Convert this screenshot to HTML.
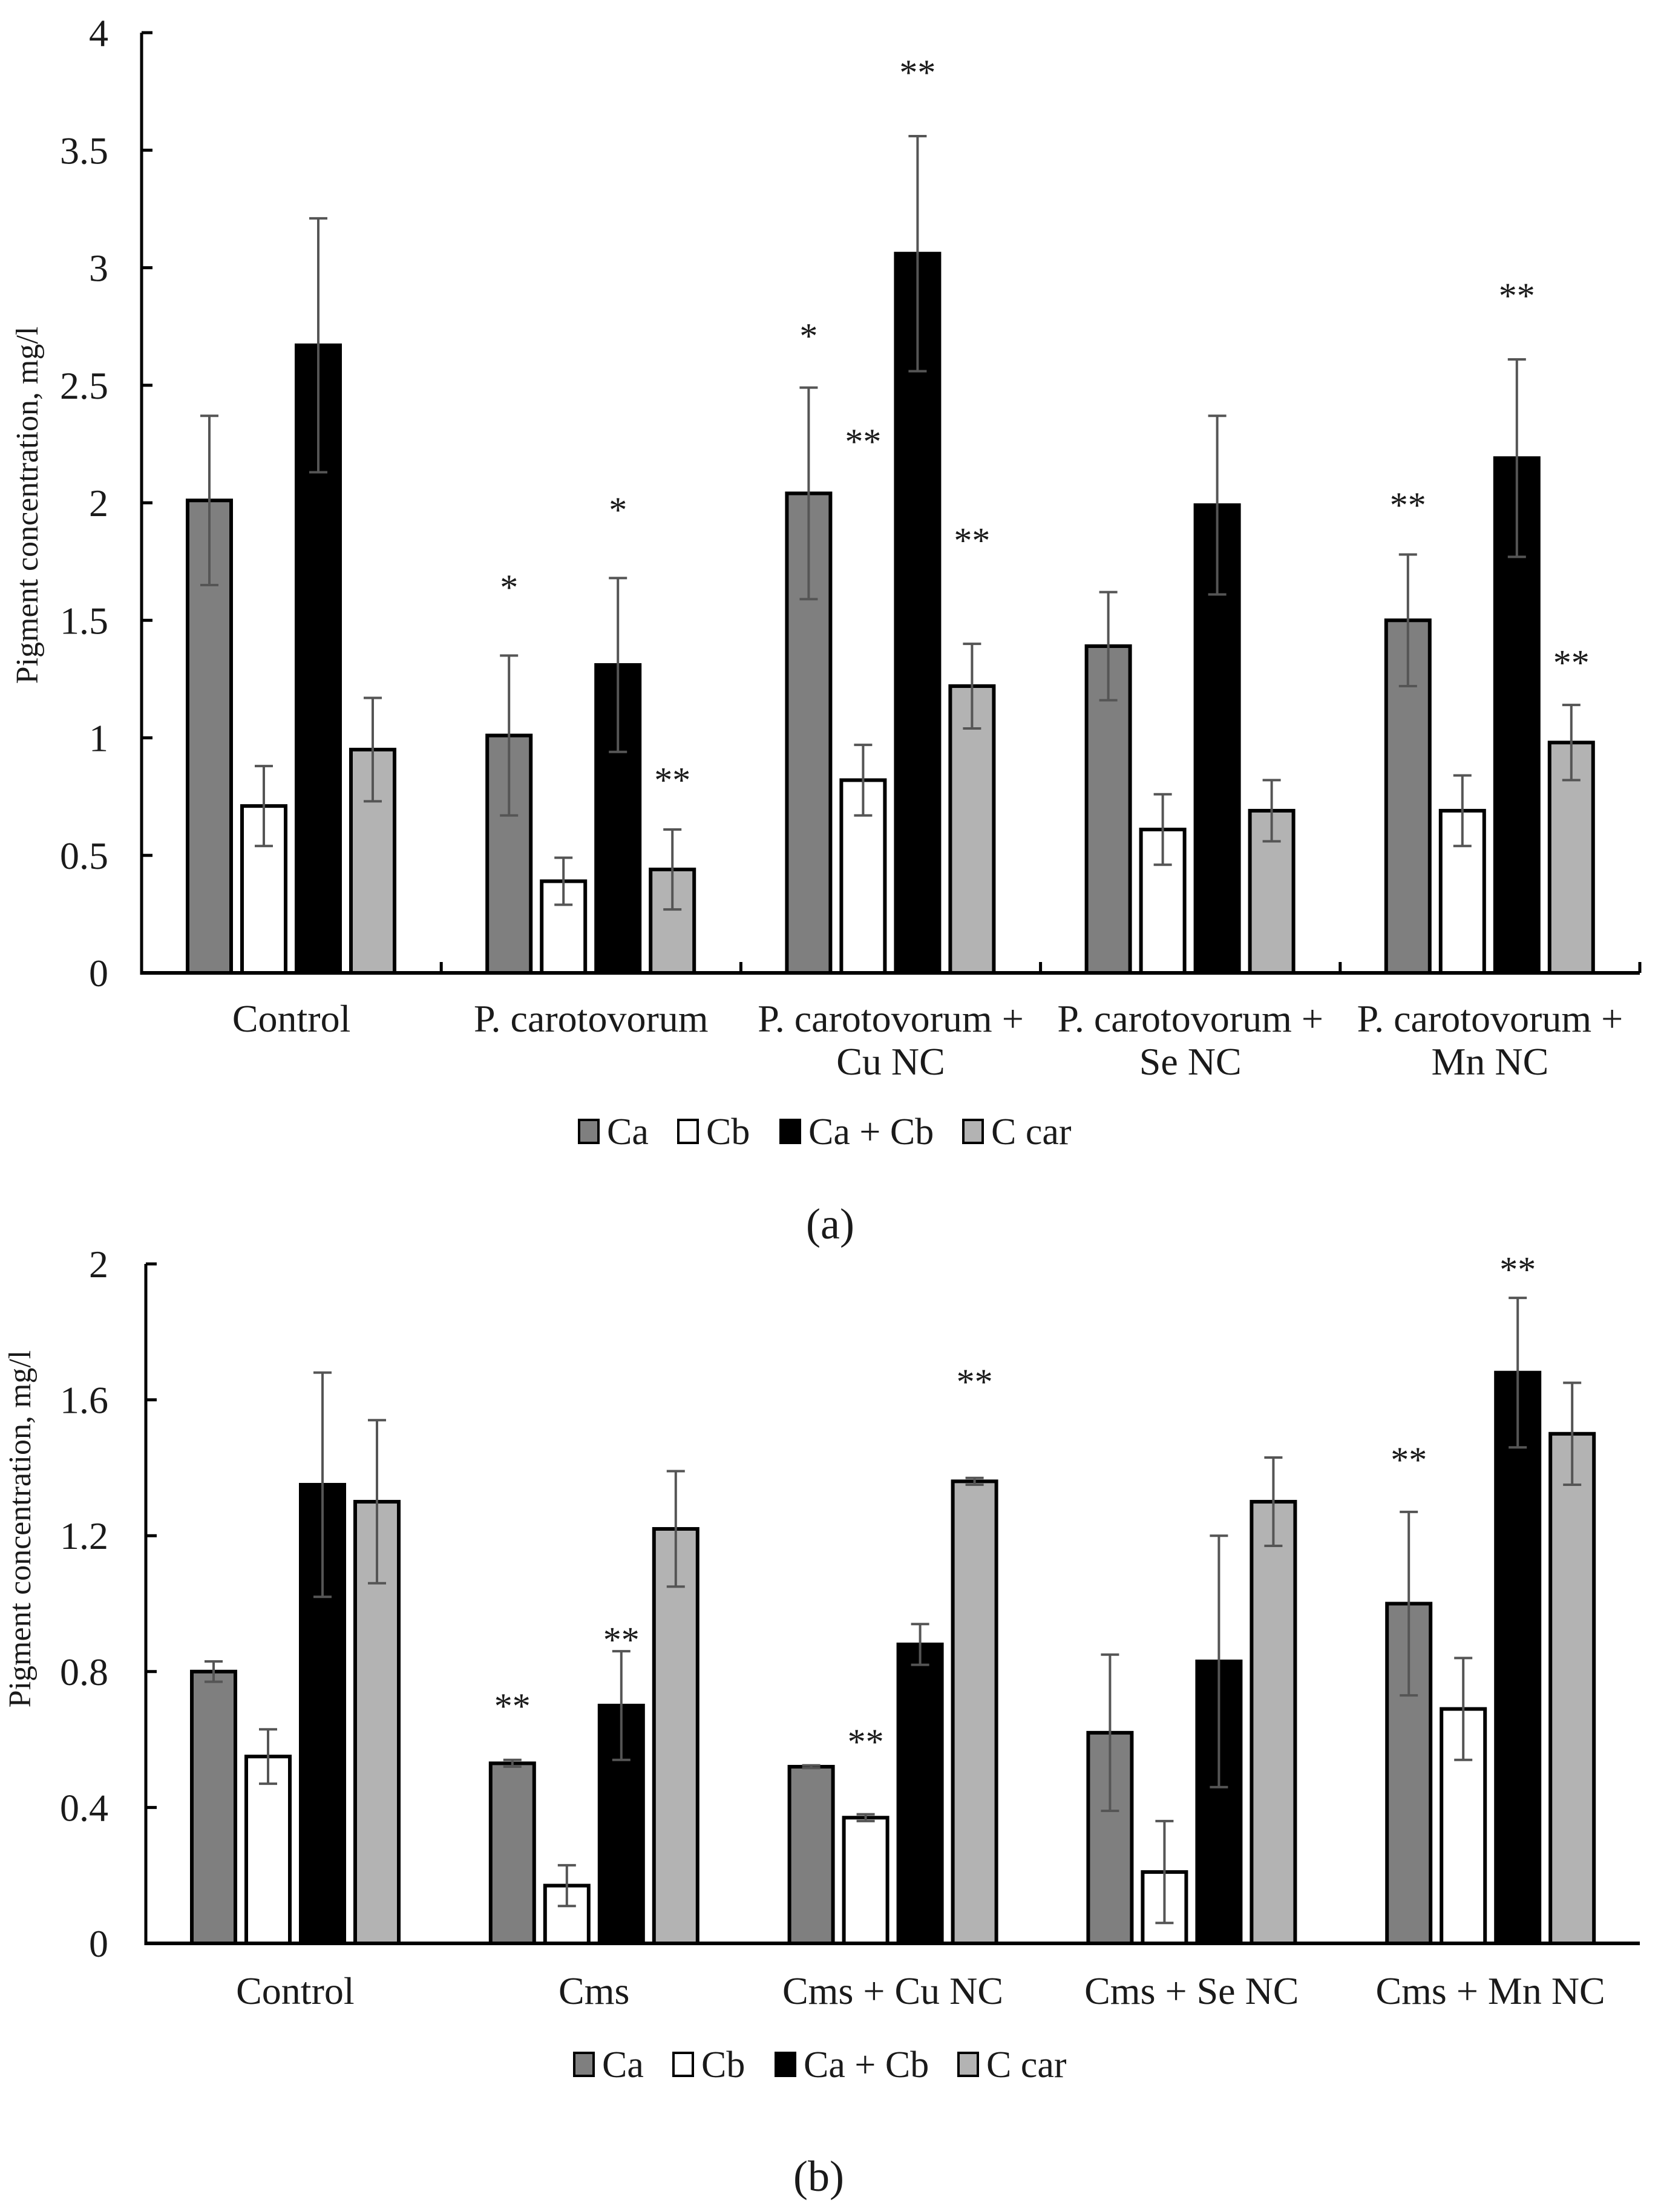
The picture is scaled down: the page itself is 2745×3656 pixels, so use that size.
<!DOCTYPE html>
<html><head><meta charset="utf-8">
<style>
html,body{margin:0;padding:0;background:#fff;}
svg{display:block;}
text{font-family:"Liberation Serif","Times New Roman",serif;fill:#1a1a1a;}
</style></head>
<body>
<svg id="fig" width="2745" height="3656" viewBox="0 0 2745 3656" xmlns="http://www.w3.org/2000/svg"></svg>
<script>
// ---------- Chart (a) data ----------
const catsA = [["Control"],["P. carotovorum"],["P. carotovorum +","Cu NC"],["P. carotovorum +","Se NC"],["P. carotovorum +","Mn NC"]];
const caA   = [2.01, 1.01, 2.04, 1.39, 1.50];
const cbA   = [0.71, 0.39, 0.82, 0.61, 0.69];
const cabA  = [2.67, 1.31, 3.06, 1.99, 2.19];
const ccarA = [0.95, 0.44, 1.22, 0.69, 0.98];
const caErrA   = [0.36, 0.34, 0.45, 0.23, 0.28];
const cbErrA   = [0.17, 0.10, 0.15, 0.15, 0.15];
const cabErrA  = [0.54, 0.37, 0.50, 0.38, 0.42];
const ccarErrA = [0.22, 0.17, 0.18, 0.13, 0.16];
const ticksA = [0, 0.5, 1, 1.5, 2, 2.5, 3, 3.5, 4];
const tickLabelsA = ["0","0.5","1","1.5","2","2.5","3","3.5","4"];
// significance marks: [group, series, text, value-level]
const sigA = [[1,0,"*",1.65],[1,2,"*",1.98],[1,3,"**",0.83],[2,0,"*",2.72],[2,1,"**",2.27],[2,2,"**",3.84],[2,3,"**",1.85],[4,0,"**",2.00],[4,2,"**",2.89],[4,3,"**",1.33]];

// ---------- Chart (b) data ----------
const catsB = [["Control"],["Cms"],["Cms + Cu NC"],["Cms + Se NC"],["Cms + Mn NC"]];
const caB   = [0.80, 0.53, 0.52, 0.62, 1.00];
const cbB   = [0.55, 0.17, 0.37, 0.21, 0.69];
const cabB  = [1.35, 0.70, 0.88, 0.83, 1.68];
const ccarB = [1.30, 1.22, 1.36, 1.30, 1.50];
const caErrB   = [0.03, 0.01, 0.004, 0.23, 0.27];
const cbErrB   = [0.08, 0.06, 0.01, 0.15, 0.15];
const cabErrB  = [0.33, 0.16, 0.06, 0.37, 0.22];
const ccarErrB = [0.24, 0.17, 0.01, 0.13, 0.15];
const ticksB = [0, 0.4, 0.8, 1.2, 1.6, 2];
const tickLabelsB = ["0","0.4","0.8","1.2","1.6","2"];
const sigB = [[1,0,"**",0.705],[1,2,"**",0.90],[2,1,"**",0.60],[2,3,"**",1.66],[4,0,"**",1.43],[4,2,"**",1.99]];

const seriesNames = ["Ca","Cb","Ca + Cb","C car"];
const seriesKeys = ["ca","cb","ca-cb","c-car"];
const fills = ["#7f7f7f","#ffffff","#000000","#b3b3b3"];

const NS = "http://www.w3.org/2000/svg";
const svg = document.getElementById("fig");
function mk(tag, attrs, parent){
  const e = document.createElementNS(NS, tag);
  for (const k in attrs) e.setAttribute(k, attrs[k]);
  (parent||svg).appendChild(e);
  return e;
}

function drawChart(o){
  const g = mk("g", {});
  
  
  const yScale = v => o.y0 - (v - 0) / o.yMax * (o.y0 - o.yTop);
  const groupW = (o.xEnd - o.x0) / o.cats.length;
  const barX = (gi, si) => o.x0 + gi*groupW + o.pad + si*o.step;
  o.ticks.forEach((t, i) => {
    const y = yScale(t);
    const tk = mk("line", {x1:o.x0, x2:o.x0+18, y1:y, y2:y, stroke:"#000", "stroke-width":5}, g);
    
    
    const tl = mk("text", {x:179, y:y+22, "text-anchor":"end", "font-size":64}, g);
    tl.textContent = o.tickLabels[i];
    
    
  });
  const series = [o.ca, o.cb, o.cab, o.ccar];
  const errs = [o.caErr, o.cbErr, o.cabErr, o.ccarErr];
  o.cats.forEach((c, gi) => {
    series.forEach((s, si) => {
      const x = barX(gi, si), y = yScale(s[gi]);
      const r = mk("rect", {x:x, y:y, width:o.bw, height:o.y0 - y, fill:fills[si], stroke:"#000", "stroke-width":6}, g);
      
      
      const cx = x + o.bw/2;
      const yt = yScale(s[gi] + errs[si][gi]), yb = yScale(s[gi] - errs[si][gi]);
      const eg = mk("g", {stroke:"#555", "stroke-width":4}, g);
      
      
      mk("line", {x1:cx, x2:cx, y1:yt, y2:yb}, eg);
      mk("line", {x1:cx-15, x2:cx+15, y1:yt, y2:yt}, eg);
      mk("line", {x1:cx-15, x2:cx+15, y1:yb, y2:yb}, eg);
    });
    const lx = o.x0 + gi*groupW + groupW/2;
    c.forEach((line, li) => {
      const t = mk("text", {x:lx, y:o.labelY + li*71, "text-anchor":"middle", "font-size":64}, g);
      t.textContent = line;
      
      
    });
    if (o.sepTicks && gi > 0) {
      const tx = o.x0 + gi*groupW;
      const st = mk("line", {x1:tx, x2:tx, y1:o.y0, y2:o.y0-18, stroke:"#000", "stroke-width":5}, g);
      
      
    }
  });
  if (o.sepTicks) {
    const st = mk("line", {x1:o.xEnd, x2:o.xEnd, y1:o.y0, y2:o.y0-18, stroke:"#000", "stroke-width":5}, g);
    
    
  }
  o.sig.forEach(s => {
    const cx = barX(s[0], s[1]) + o.bw/2;
    const t = mk("text", {x:cx, y:yScale(s[3]) + 24, "text-anchor":"middle", "font-size":60, fill:"#444"}, g);
    t.textContent = s[2];
    
    
  });
  const ya = mk("line", {x1:o.x0, x2:o.x0, y1:o.yTop, y2:o.y0+2.5, stroke:"#000", "stroke-width":5}, g);
  
  
  const xa = mk("line", {x1:o.x0-2.5, x2:o.xEnd, y1:o.y0, y2:o.y0, stroke:"#000", "stroke-width":6}, g);
  
  
  const at = mk("text", {x:0, y:0, "text-anchor":"middle", "font-size":52, transform:"translate(" + (o.titleX) + "," + o.titleY + ") rotate(-90)"}, g);
  at.textContent = "Pigment concentration, mg/l";
  
  
  const lg = mk("g", {}, g);
  
  
  const lgX = [0, 164, 333, 635];
  seriesNames.forEach((n, i) => {
    const ex = o.legX + lgX[i];
    const item = mk("g", {}, lg);
    
    
    mk("rect", {x:ex, y:o.legY-19, width:32, height:38, fill:fills[i], stroke:"#000", "stroke-width":4}, item);
    const t = mk("text", {x:ex+46, y:o.legY+21, "font-size":62}, item);
    t.textContent = n;
  });
  const pc = mk("text", {x:o.capX, y:o.capY+24, "text-anchor":"middle", "font-size":72}, g);
  pc.textContent = o.caption;
  
  
}

drawChart({name:"chart-a", cats:catsA, ca:caA, cb:cbA, cab:cabA, ccar:ccarA,
  caErr:caErrA, cbErr:cbErrA, cabErr:cabErrA, ccarErr:ccarErrA,
  ticks:ticksA, tickLabels:tickLabelsA, sig:sigA, yMax:4,
  x0:234, xEnd:2710, y0:1608, yTop:54, pad:76, step:90, bw:72,
  labelY:1705, sepTicks:true, titleX:62, titleY:835,
  legX:957, legY:1870, caption:"(a)", capX:1372, capY:2023});

drawChart({name:"chart-b", cats:catsB, ca:caB, cb:cbB, cab:cabB, ccar:ccarB,
  caErr:caErrB, cbErr:cbErrB, cabErr:cabErrB, ccarErr:ccarErrB,
  ticks:ticksB, tickLabels:tickLabelsB, sig:sigB, yMax:2,
  x0:241, xEnd:2710, y0:3212, yTop:2089, pad:76, step:90, bw:72,
  labelY:3312, sepTicks:false, titleX:50, titleY:2527,
  legX:949, legY:3412, caption:"(b)", capX:1353, capY:3597});
</script>
</body></html>
